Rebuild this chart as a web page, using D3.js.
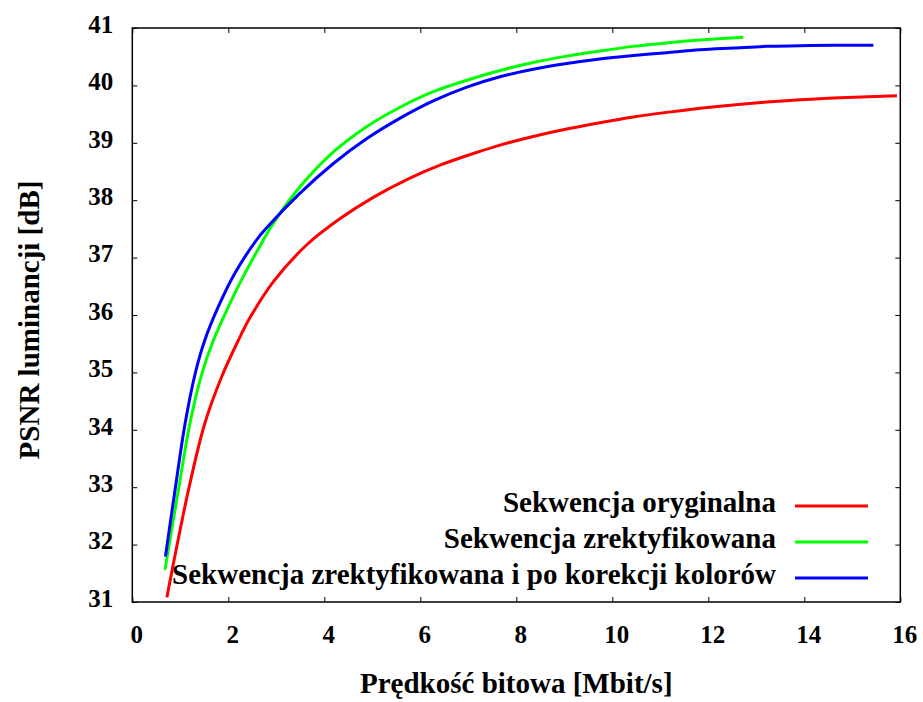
<!DOCTYPE html>
<html>
<head>
<meta charset="utf-8">
<script src="https://cdn.jsdelivr.net/npm/d3@7"></script>
<style>
  body { margin: 0; background: #fff; }
  svg text { font-family: "Liberation Serif", "Times New Roman", serif; font-weight: bold; fill: #000; }
</style>
</head>
<body>
<div id="chart"></div>
<script>
// series values: [bitrate Mbit/s, PSNR dB]
const original = [
  [0.72, 31.08], [1.17, 32.95], [1.51, 34.11], [1.86, 34.92], [2.21, 35.56],
  [2.45, 35.95], [2.94, 36.58], [3.63, 37.22], [4.33, 37.68], [5.02, 38.05],
  [5.72, 38.36], [6.41, 38.61], [7.24, 38.85], [7.66, 38.96], [8.35, 39.11],
  [9.05, 39.24], [9.74, 39.35], [10.44, 39.45], [11.13, 39.53], [11.83, 39.60],
  [12.52, 39.66], [13.22, 39.71], [13.91, 39.75], [14.60, 39.78], [15.93, 39.82]
];
const rectified = [
  [0.68, 31.56], [0.96, 32.95], [1.20, 34.11], [1.45, 34.98], [1.69, 35.56],
  [2.00, 36.14], [2.28, 36.62], [2.66, 37.20], [2.94, 37.60], [3.49, 38.23],
  [4.19, 38.84], [4.88, 39.28], [5.58, 39.62], [6.27, 39.89], [6.97, 40.09],
  [7.66, 40.26], [8.35, 40.40], [9.05, 40.51], [9.74, 40.60], [10.44, 40.68],
  [11.13, 40.74], [11.83, 40.79], [12.73, 40.84]
];
const corrected = [
  [0.69, 31.79], [0.89, 32.95], [1.10, 34.11], [1.31, 34.98], [1.51, 35.56],
  [1.79, 36.14], [2.14, 36.73], [2.59, 37.31], [2.80, 37.52], [3.49, 38.12],
  [4.19, 38.64], [4.88, 39.07], [5.58, 39.43], [6.27, 39.73], [6.97, 39.97],
  [7.66, 40.15], [8.35, 40.28], [9.05, 40.38], [9.74, 40.46], [10.44, 40.52],
  [11.13, 40.57], [11.83, 40.62], [12.52, 40.65], [13.22, 40.68], [13.91, 40.69],
  [14.60, 40.70], [15.44, 40.70]
];

const seriesNames = [
  "Sekwencja oryginalna",
  "Sekwencja zrektyfikowana",
  "Sekwencja zrektyfikowana i po korekcji kolorów"
];
const seriesColors = ["#ff0000", "#00ff00", "#0000ff"];
const xTicks = [0, 2, 4, 6, 8, 10, 12, 14, 16];
const yTicks = [31, 32, 33, 34, 35, 36, 37, 38, 39, 40, 41];

const W = 923, H = 702;
const margin = { top: 28, right: 22.7, bottom: 100, left: 132.3 };
const width = W - margin.left - margin.right;
const height = H - margin.top - margin.bottom;

const svg = d3.select("#chart").append("svg")
  .attr("width", W)
  .attr("height", H);

const g = svg.append("g")
  .attr("transform", `translate(${margin.left},${margin.top})`);

const x = d3.scaleLinear().domain([0, 16]).range([0, width]);
const y = d3.scaleLinear().domain([31, 41]).range([height, 0]);

// axes, ticks pointing inward on all four sides
const xAxisBottom = g.append("g")
  .attr("transform", `translate(0,${height})`)
  .call(d3.axisBottom(x).tickValues(xTicks).tickSizeInner(-5).tickSizeOuter(0).tickPadding(23));
const xAxisTop = g.append("g")
  .call(d3.axisTop(x).tickValues(xTicks).tickSizeInner(-5).tickSizeOuter(0).tickFormat(""));
const yAxisLeft = g.append("g")
  .call(d3.axisLeft(y).tickValues(yTicks).tickSizeInner(-5).tickSizeOuter(0).tickPadding(19));
const yAxisRight = g.append("g")
  .attr("transform", `translate(${width},0)`)
  .call(d3.axisRight(y).tickValues(yTicks).tickSizeInner(-5).tickSizeOuter(0).tickFormat(""));

[xAxisBottom, xAxisTop, yAxisLeft, yAxisRight].forEach(a => {
  a.select(".domain").remove();
  a.selectAll(".tick line").attr("stroke", "#000");
});
xAxisBottom.selectAll(".tick text").attr("font-size", 25).attr("dx", 4);
yAxisLeft.selectAll(".tick text").attr("font-size", 25).attr("dy", "0.17em");

g.append("rect")
  .attr("width", width)
  .attr("height", height)
  .attr("fill", "none")
  .attr("stroke", "#000")
  .attr("stroke-width", 1.5);

// lines
const line = d3.line()
  .x(d => x(d[0]))
  .y(d => y(d[1]))
  .curve(d3.curveCatmullRom.alpha(0.5));

[original, rectified, corrected].forEach((data, i) => {
  g.append("path")
    .datum(data)
    .attr("fill", "none")
    .attr("stroke", seriesColors[i])
    .attr("stroke-width", 3)
    .attr("d", line);
});

// legend
const legend = svg.append("g");
seriesNames.forEach((name, i) => {
  const ly = 506 + i * 36;
  legend.append("text")
    .attr("x", 776)
    .attr("y", ly)
    .attr("dy", "0.22em")
    .attr("text-anchor", "end")
    .attr("font-size", 29)
    .text(name);
  legend.append("line")
    .attr("x1", 795).attr("x2", 868)
    .attr("y1", ly).attr("y2", ly)
    .attr("stroke", seriesColors[i])
    .attr("stroke-width", 3);
});

// axis titles
svg.append("text")
  .attr("x", margin.left + width / 2)
  .attr("y", 693)
  .attr("text-anchor", "middle")
  .attr("font-size", 29)
  .text("Prędkość bitowa [Mbit/s]");

svg.append("text")
  .attr("transform", "translate(39,320) rotate(-90)")
  .attr("text-anchor", "middle")
  .attr("font-size", 29)
  .text("PSNR luminancji [dB]");
</script>
</body>
</html>
